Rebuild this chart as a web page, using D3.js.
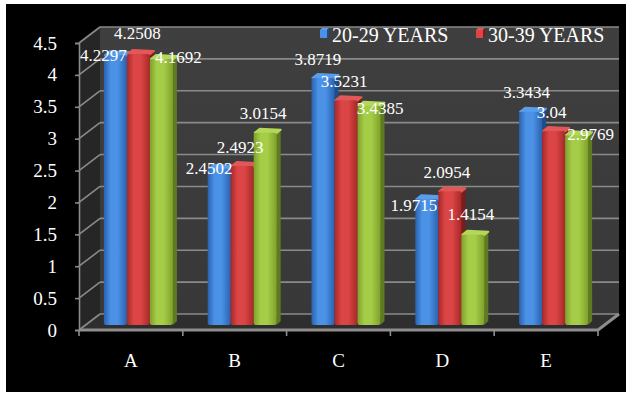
<!DOCTYPE html>
<html>
<head>
<meta charset="utf-8">
<script src="https://cdn.jsdelivr.net/npm/d3@7"></script>
<style>
  html, body { margin: 0; padding: 0; background: #fff; }
  svg { display: block; }
  text { font-family: "Liberation Serif", "Times New Roman", serif; fill: #fff; }
</style>
</head>
<body>
<svg id="chart" width="626" height="396"></svg>
<script>
// Category labels and the three age-group series
const categories = ["A", "B", "C", "D", "E"];
const seriesNames = ["20-29 YEARS", "30-39 YEARS", "40-49 YEARS"];
const years20to29 = [4.2297, 2.4502, 3.8719, 1.9715, 3.3434];
const years30to39 = [4.2508, 2.4923, 3.5231, 2.0954, 3.04];
const years40to49 = [4.1692, 3.0154, 3.4385, 1.4154, 2.9769];
const yTicks = [0, 0.5, 1, 1.5, 2, 2.5, 3, 3.5, 4, 4.5];

// Hand-placed data label nudges [dx, dy] from each bar's top centre
const labelNudges = [
  [[-12, 0], [-1, -20], [17, -2]],
  [[-10, 0], [-2, -19], [-2, -19]],
  [[-5, -19], [-2, -19], [11, 3]],
  [[-13, 6], [-3, -19], [-2, -20]],
  [[-4, -19], [-2, -19], [14, -1]]
];

const seriesValues = [years20to29, years30to39, years40to49];
const palette = [
  { dark: "#2a62b0", light: "#4b92e6", side: "#1f4c8a", top: "#5a9eea" },
  { dark: "#a82828", light: "#db4545", side: "#7e1c1c", top: "#e25858" },
  { dark: "#7ea12c", light: "#a6cd48", side: "#5f7a20", top: "#b3d85a" }
];

const svg = d3.select("#chart");
const W = 626, H = 396;

// Black chart area framed by a thin white margin
svg.append("rect").attr("x", 6).attr("y", 4).attr("width", W - 6).attr("height", 388).attr("fill", "#000");

// 3D box geometry: front plane and depth offset
const frontLeft = 79, frontRight = 598;
const depthX = 21, depthY = -16;
const y = d3.scaleLinear().domain([0, 4.5]).range([330, 43]);
const x0 = d3.scaleBand().domain(categories).range([frontLeft, frontRight]);
const groupWidth = x0.bandwidth() * 0.665;
const x1 = d3.scaleBand().domain(d3.range(3)).range([0, groupWidth]);
const barShift = 7.5, barLift = 5, capDepth = 4;

const defs = svg.append("defs");
palette.forEach((c, i) => {
  const g = defs.append("linearGradient").attr("id", "barGrad" + i)
    .attr("x1", "0%").attr("x2", "100%").attr("y1", "0%").attr("y2", "0%");
  g.append("stop").attr("offset", "0%").attr("stop-color", c.dark);
  g.append("stop").attr("offset", "30%").attr("stop-color", c.light);
  g.append("stop").attr("offset", "60%").attr("stop-color", c.light);
  g.append("stop").attr("offset", "100%").attr("stop-color", c.dark);
});
const wallGrad = defs.append("linearGradient").attr("id", "wallGrad")
  .attr("x1", "0%").attr("x2", "0%").attr("y1", "0%").attr("y2", "100%");
wallGrad.append("stop").attr("offset", "0%").attr("stop-color", "#3f3f3f");
wallGrad.append("stop").attr("offset", "100%").attr("stop-color", "#383838");

const yTop = y(4.5), yBase = y(0);
const poly = pts => "M" + pts.map(p => p.join(",")).join("L") + "Z";

// Back wall
svg.append("path")
  .attr("d", poly([[frontLeft + depthX, yTop + depthY], [frontRight + depthX, yTop + depthY],
                   [frontRight + depthX, yBase + depthY], [frontLeft + depthX, yBase + depthY]]))
  .attr("fill", "url(#wallGrad)");
// Side wall
svg.append("path")
  .attr("d", poly([[frontLeft, yTop], [frontLeft + depthX, yTop + depthY],
                   [frontLeft + depthX, yBase + depthY], [frontLeft, yBase]]))
  .attr("fill", "#262626");
// Floor
svg.append("path")
  .attr("d", poly([[frontLeft, yBase], [frontLeft + depthX, yBase + depthY],
                   [frontRight + depthX, yBase + depthY], [frontRight, yBase]]))
  .attr("fill", "#2e2e2e");

// Gridlines across the back wall and the side wall
const grid = svg.append("g").attr("stroke", "#8a8a8a").attr("stroke-width", 1.6).attr("fill", "none");
yTicks.forEach(t => {
  grid.append("line")
    .attr("x1", frontLeft + depthX).attr("x2", frontRight + depthX)
    .attr("y1", y(t) + depthY).attr("y2", y(t) + depthY);
  grid.append("line")
    .attr("x1", frontLeft).attr("x2", frontLeft + depthX)
    .attr("y1", y(t)).attr("y2", y(t) + depthY);
});

// Value axis on the front-left edge
const yAxis = d3.axisLeft(y).tickValues(yTicks).tickSize(4).tickPadding(18).tickFormat(d3.format("~g"));
const yg = svg.append("g").attr("transform", `translate(${frontLeft},0)`).call(yAxis);
yg.select(".domain").attr("stroke", "#8a8a8a").attr("stroke-width", 1.6);
yg.selectAll(".tick line").attr("stroke", "#8a8a8a").attr("stroke-width", 1.6);
yg.selectAll(".tick text").attr("font-size", 19).attr("fill", "#fff")
  .attr("font-family", "'Liberation Serif', 'Times New Roman', serif");

// Floor front edge, its slanted right end, and category ticks
svg.append("path")
  .attr("d", `M${frontLeft},${yBase}L${frontRight},${yBase}L${frontRight + depthX},${yBase + depthY}`)
  .attr("stroke", "#8e8e8e").attr("stroke-width", 3).attr("fill", "none");
const xAxis = d3.axisBottom(x0).tickSize(0).tickPadding(24);
const xg = svg.append("g").attr("transform", `translate(0,${yBase})`).call(xAxis);
xg.select(".domain").remove();
xg.selectAll(".tick text").attr("font-size", 19).attr("fill", "#fff")
  .attr("font-family", "'Liberation Serif', 'Times New Roman', serif");
svg.append("g").selectAll("line")
  .data(d3.range(categories.length + 1))
  .join("line")
  .attr("x1", i => frontLeft + i * x0.step()).attr("x2", i => frontLeft + i * x0.step())
  .attr("y1", yBase).attr("y2", yBase + 6)
  .attr("stroke", "#8e8e8e").attr("stroke-width", 1.6);

// Bars: front face with cylinder shading, right side face and top cap
const bars = [];
categories.forEach((cat, i) => {
  seriesValues.forEach((vals, j) => {
    bars.push({ cat, i, j, v: vals[i] });
  });
});
const bw = x1.bandwidth();
const barG = svg.append("g");
bars.forEach(b => {
  const bx = x0(b.cat) + (x0.bandwidth() - groupWidth) / 2 + barShift + x1(b.j);
  const top = y(b.v) - barLift;
  const bottom = y(0) - barLift;
  const c = palette[b.j];
  const g = barG.append("g");
  g.append("path")
    .attr("d", poly([[bx + bw - 1, top + 1], [bx + bw + capDepth, top - capDepth + 2],
                     [bx + bw + capDepth, bottom - capDepth], [bx + bw, bottom]]))
    .attr("fill", c.side);
  g.append("path")
    .attr("d", poly([[bx + 1, top], [bx + capDepth + 2, top - capDepth],
                     [bx + bw + capDepth, top - capDepth + 1], [bx + bw - 1, top + 1]]))
    .attr("fill", c.top).attr("stroke", c.top).attr("stroke-width", 2).attr("stroke-linejoin", "round");
  g.append("rect")
    .attr("x", bx).attr("y", top).attr("width", bw).attr("height", bottom - top)
    .attr("rx", 2)
    .attr("fill", `url(#barGrad${b.j})`);
  b.cx = bx + bw / 2;
  b.top = top;
});

// Data labels
svg.append("g").selectAll("text")
  .data(bars)
  .join("text")
  .attr("x", b => b.cx + labelNudges[b.i][b.j][0])
  .attr("y", b => b.top + labelNudges[b.i][b.j][1])
  .attr("text-anchor", "middle")
  .attr("dominant-baseline", "central")
  .attr("font-size", 17)
  .text(b => b.v);

// Legend across the top of the back wall
const legendItems = [
  { name: seriesNames[0], c: palette[0], x: 320 },
  { name: seriesNames[1], c: palette[1], x: 476 }
];
const lg = svg.append("g");
legendItems.forEach(it => {
  lg.append("rect").attr("x", it.x).attr("y", 30).attr("width", 7).attr("height", 8)
    .attr("fill", it.c.light);
  lg.append("path")
    .attr("d", poly([[it.x, 30], [it.x + 2, 28], [it.x + 9, 28], [it.x + 7, 30]]))
    .attr("fill", it.c.top);
  lg.append("path")
    .attr("d", poly([[it.x + 7, 30], [it.x + 9, 28], [it.x + 9, 36], [it.x + 7, 38]]))
    .attr("fill", it.c.side);
  lg.append("text").attr("x", it.x + 12).attr("y", 42).attr("font-size", 20).text(it.name);
});
</script>
</body>
</html>
